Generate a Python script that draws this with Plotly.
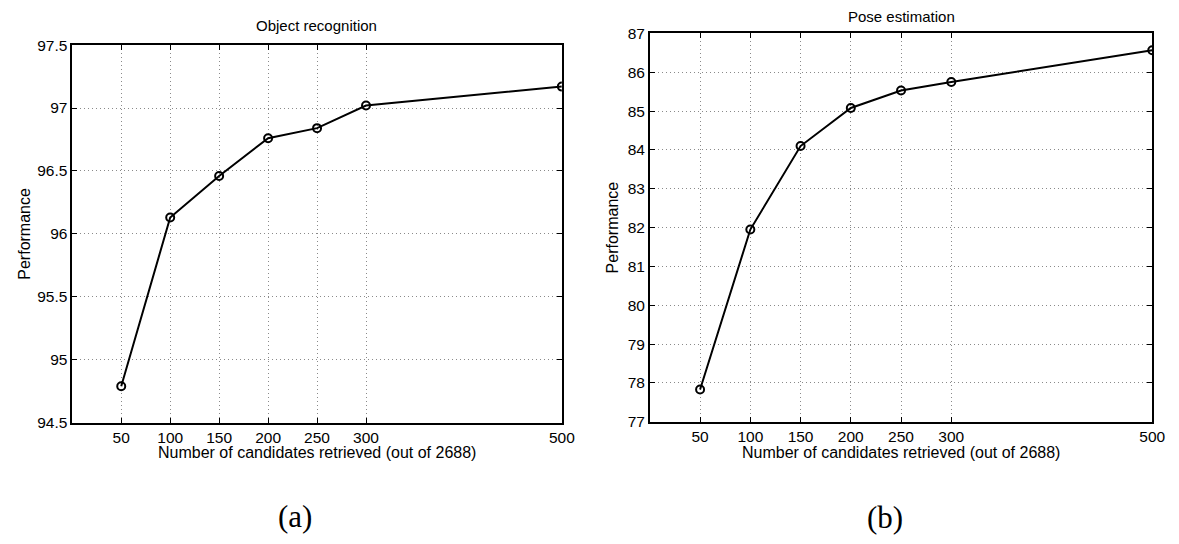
import plotly.graph_objects as go

candidates = [50, 100, 150, 200, 250, 300, 500]
object_recognition = [94.79, 96.13, 96.46, 96.76, 96.84, 97.02, 97.17]
pose_estimation = [77.83, 81.95, 84.10, 85.08, 85.53, 85.75, 86.57]

x_ticks = [50, 100, 150, 200, 250, 300, 500]
y_ticks_a = [94.5, 95, 95.5, 96, 96.5, 97, 97.5]
y_tick_labels_a = ["94.5", "95", "95.5", "96", "96.5", "97", "97.5"]
y_ticks_b = [77, 78, 79, 80, 81, 82, 83, 84, 85, 86, 87]

FONT = "Liberation Sans, Arial, sans-serif"
SERIF = "Liberation Serif, Times New Roman, serif"
OFFX, OFFY = 0, 8
W, H = 1179 - OFFX, 544 - OFFY

fig = go.Figure()
line_style = dict(color="black", width=2)
marker_style = dict(symbol="circle-open", size=8, color="black", line=dict(width=2, color="black"))

fig.add_trace(go.Scatter(x=candidates, y=object_recognition, mode="lines+markers",
                         line=line_style, marker=marker_style, xaxis="x", yaxis="y",
                         showlegend=False))
fig.add_trace(go.Scatter(x=candidates, y=pose_estimation, mode="lines+markers",
                         line=line_style, marker=marker_style, xaxis="x2", yaxis="y2",
                         showlegend=False))


def px_x(p):
    return (p - OFFX) / W


def px_y(p):
    return 1 - (p - OFFY) / H


axis_common = dict(showline=True, linecolor="black", linewidth=1.5, mirror="ticks",
                   ticks="inside", ticklen=5, tickcolor="black", tickwidth=1,
                   showgrid=True, gridcolor="#8a8a8a", griddash="1px,3px", gridwidth=1,
                   zeroline=False, tickfont=dict(family=FONT, size=15.5, color="black"))

fig.update_layout(
    width=W, height=H, margin=dict(l=0, r=0, t=0, b=0),
    plot_bgcolor="white", paper_bgcolor="white",
    xaxis=dict(domain=[px_x(65), px_x(560)], range=[0, 500], tickvals=x_ticks,
               anchor="y", **axis_common),
    yaxis=dict(domain=[px_y(427), px_y(37)], range=[94.5, 97.5], tickvals=y_ticks_a,
               ticktext=y_tick_labels_a, anchor="x", **axis_common),
    xaxis2=dict(domain=[px_x(649), px_x(1157)], range=[0, 500], tickvals=x_ticks,
                anchor="y2", **axis_common),
    yaxis2=dict(domain=[px_y(426), px_y(25)], range=[77, 87], tickvals=y_ticks_b,
                anchor="x2", **axis_common),
)


def ann(text, x, y, size=15, family=FONT, angle=0):
    fig.add_annotation(text=text, x=px_x(x), y=px_y(y), xref="paper", yref="paper",
                       showarrow=False, textangle=angle, xanchor="center", yanchor="middle",
                       font=dict(family=family, size=size, color="black"))


ann("Object recognition", 312, 17, 15)
ann("Pose estimation", 903, 7, 15)
ann("Number of candidates retrieved (out of 2688)", 312, 458, 16)
ann("Number of candidates retrieved (out of 2688)", 903, 458, 16)
ann("Performance", 17, 232, 16, angle=-90)
ann("Performance", 611, 225, 16, angle=-90)
ann("(a)", 290, 524, 31, family=SERIF)
ann("(b)", 887, 525, 31, family=SERIF)

fig.write_html("out.html")
